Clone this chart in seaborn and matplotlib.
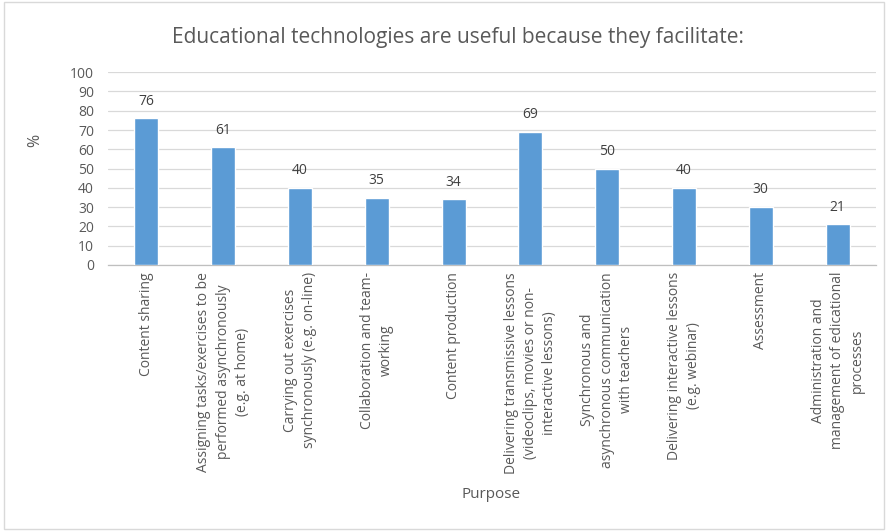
import matplotlib
matplotlib.use("Agg")
import matplotlib.pyplot as plt
import seaborn as sns
import pandas as pd

categories = [
    "Content sharing",
    "Assigning tasks/exercises to be\nperformed asynchronously\n(e.g. at home)",
    "Carrying out exercises\nsynchronously (e.g. on-line)",
    "Collaboration and team-\nworking",
    "Content production",
    "Delivering transmissive lessons\n(videoclips, movies or non-\ninteractive lessons)",
    "Synchronous and\nasynchronous communication\nwith teachers",
    "Delivering interactive lessons\n(e.g. webinar)",
    "Assessment",
    "Administration and\nmanagement of edicational\nprocesses",
]
values = [76, 61, 40, 35, 34, 69, 50, 40, 30, 21]
yticks = [0, 10, 20, 30, 40, 50, 60, 70, 80, 90, 100]

title = "Educational technologies are useful because they facilitate:"
xlabel = "Purpose"
ylabel = "%"

sns.set_theme(style="white")
plt.rcParams['font.family'] = ['Open Sans', 'DejaVu Sans']

TXT = "#595959"
BAR = "#5B9BD5"
GRID = "#D9D9D9"

df = pd.DataFrame({"cat": categories, "val": values})

fig = plt.figure(figsize=(8.88, 5.31), dpi=100)
L, W = 108 / 888, 768 / 888
ax = fig.add_axes([L, 0.501, W, 0.363])

sns.barplot(data=df, x="cat", y="val", color=BAR, width=0.31, saturation=1, ax=ax, zorder=3)

ax.set_xlim(-0.5, len(categories) - 0.5)
ax.set_ylim(0, 100)
ax.set_yticks(yticks)
ax.set_yticklabels([str(t) for t in yticks], color=TXT, fontsize=10)
ax.grid(axis="y", color=GRID, linewidth=0.9, zorder=0)
ax.set_axisbelow(True)
for s in ["top", "right", "left"]:
    ax.spines[s].set_visible(False)
ax.spines["bottom"].set_color("#BFBFBF")
ax.spines["bottom"].set_linewidth(0.9)
ax.tick_params(axis="y", length=0, pad=10)
ax.tick_params(axis="x", length=0, pad=5)

ax.set_xticks(range(len(categories)))
ax.set_xticklabels(categories, rotation=90, ha="center", va="top",
                   multialignment="center", color=TXT, fontsize=10,
                   linespacing=1.4)

for i, v in enumerate(values):
    ax.text(i, v + 9, str(v), ha="center", va="center", color="#404040", fontsize=10)

ax.set_xlabel("")
ax.set_ylabel("")
fig.text(491 / 888, 1 - 495 / 531, xlabel, ha="center", va="center",
         color=TXT, fontsize=11)
fig.text(35 / 888, 1 - 140 / 531, ylabel, ha="center", va="center", rotation=90,
         color=TXT, fontsize=11.5)
fig.text(458 / 888, 1 - 37 / 531, title, ha="center", va="center",
         color=TXT, fontsize=15)

border = plt.Rectangle((0.004, 0.004), 0.992, 0.992, transform=fig.transFigure,
                       fill=False, edgecolor="#D9D9D9", linewidth=1)
fig.add_artist(border)

fig.savefig("out.png", dpi=100, facecolor="white")
